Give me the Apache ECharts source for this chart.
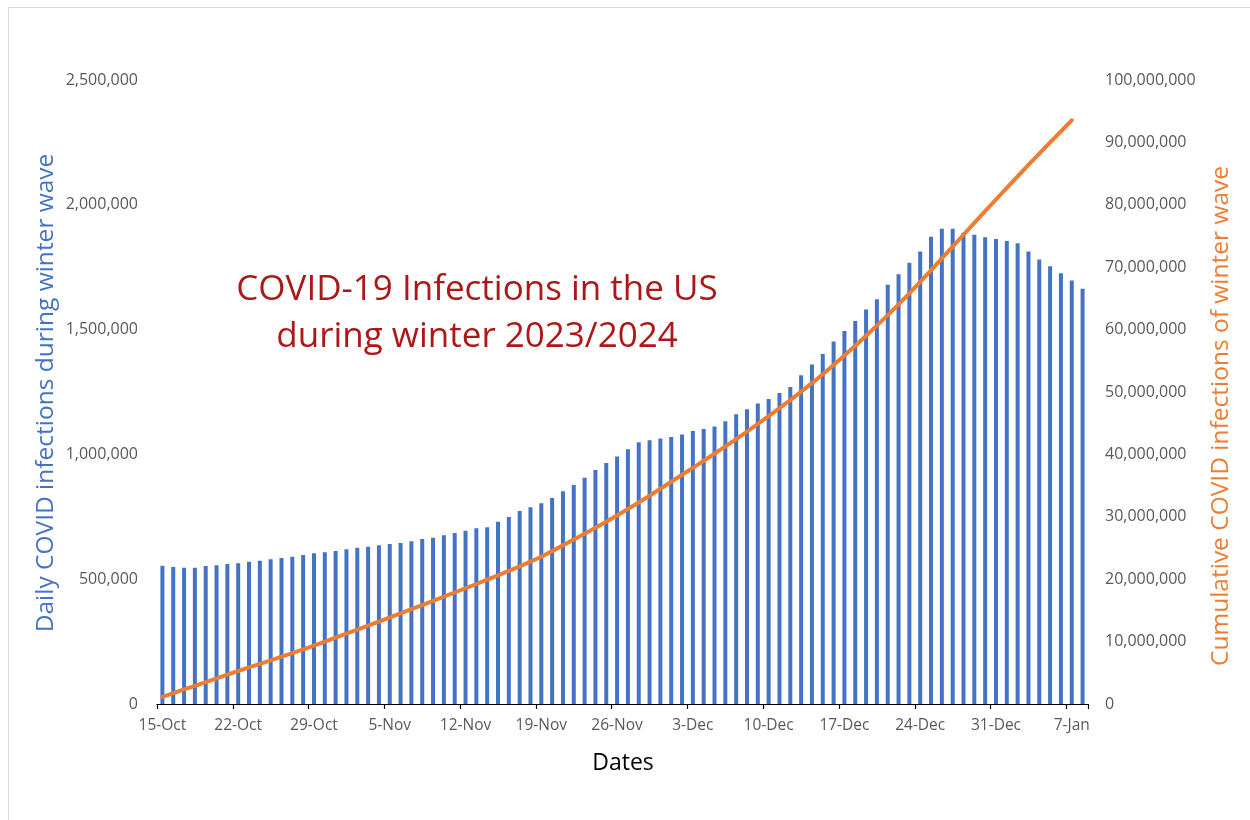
<!DOCTYPE html>
<html>
<head>
<meta charset="utf-8">
<script src="https://cdn.jsdelivr.net/npm/echarts@6/dist/echarts.min.js"></script>
<style>
html,body{margin:0;padding:0;background:#fff;}
#chart{width:1250px;height:820px;}
</style>
</head>
<body>
<div id="chart"></div>
<script>
const dates = [
 "15-Oct","16-Oct","17-Oct","18-Oct","19-Oct","20-Oct","21-Oct","22-Oct","23-Oct","24-Oct","25-Oct","26-Oct","27-Oct","28-Oct","29-Oct","30-Oct","31-Oct",
 "1-Nov","2-Nov","3-Nov","4-Nov","5-Nov","6-Nov","7-Nov","8-Nov","9-Nov","10-Nov","11-Nov","12-Nov","13-Nov","14-Nov","15-Nov","16-Nov","17-Nov","18-Nov","19-Nov","20-Nov","21-Nov","22-Nov","23-Nov","24-Nov","25-Nov","26-Nov","27-Nov","28-Nov","29-Nov","30-Nov",
 "1-Dec","2-Dec","3-Dec","4-Dec","5-Dec","6-Dec","7-Dec","8-Dec","9-Dec","10-Dec","11-Dec","12-Dec","13-Dec","14-Dec","15-Dec","16-Dec","17-Dec","18-Dec","19-Dec","20-Dec","21-Dec","22-Dec","23-Dec","24-Dec","25-Dec","26-Dec","27-Dec","28-Dec","29-Dec","30-Dec","31-Dec",
 "1-Jan","2-Jan","3-Jan","4-Jan","5-Jan","6-Jan","7-Jan","8-Jan"
];

const dailyInfections = [
 554000,549000,546000,546000,553000,556000,561000,564000,570000,574000,
 580000,585000,590000,597000,604000,608000,613000,620000,626000,630000,
 636000,641000,645000,652000,661000,666000,676000,685000,694000,704000,
 708000,730000,749000,773000,788000,804000,825000,852000,877000,906000,
 938000,966000,992000,1021000,1049000,1057000,1064000,1070000,1080000,1094000,
 1102000,1112000,1133000,1161000,1181000,1204000,1222000,1246000,1270000,1317000,
 1360000,1402000,1452000,1494000,1534000,1581000,1622000,1680000,1722000,1768000,
 1813000,1872000,1904000,1904000,1888000,1880000,1870000,1863000,1855000,1846000,
 1813000,1781000,1754000,1726000,1697000,1664000
];

const cumulativeInfections = [
 1150000,1740000,2330000,2920000,3510000,4100000,4700000,5290000,5860000,6430000,
 7000000,7580000,8170000,8760000,9370000,10000000,10630000,11270000,11910000,12560000,
 13220000,13880000,14540000,15200000,15860000,16520000,17190000,17870000,18550000,19230000,
 19920000,20620000,21330000,22060000,22820000,23600000,24500000,25420000,26360000,27300000,
 28250000,29220000,30220000,31240000,32300000,33380000,34500000,35620000,36730000,37850000,
 38980000,40120000,41280000,42460000,43660000,44880000,46120000,47400000,48700000,50050000,
 51420000,52850000,54320000,55840000,57400000,59000000,60640000,62330000,64050000,65820000,
 67640000,69500000,71400000,73300000,75200000,77100000,78980000,80850000,82700000,84550000,
 86380000,88200000,90000000,91780000,93550000,null
];

const chartTitle = "COVID-19 Infections in the US\nduring winter 2023/2024";
const leftAxisTitle = "Daily COVID infections during winter wave";
const rightAxisTitle = "Cumulative COVID infections of winter wave";
const xAxisTitle = "Dates";

function fmt(v){ return String(v).replace(/\B(?=(\d{3})+(?!\d))/g, ","); }

const FONT = "'Open Sans', 'Liberation Sans', sans-serif";
const chart = echarts.init(document.getElementById('chart'), null, {renderer:'canvas'});
chart.setOption({
  animation: false,
  backgroundColor: '#ffffff',
  grid: {left:157, right:162, top:80, bottom:116, containLabel:false},
  xAxis: {
    type:'category', data: dates, boundaryGap:true,
    axisLine:{show:true, lineStyle:{color:'#000000', width:1.2}},
    axisTick:{show:true, interval:6, length:5, alignWithLabel:false, lineStyle:{color:'#000000', width:1.2}},
    axisLabel:{interval:6, color:'#595959', fontSize:15.5, fontFamily:FONT, margin:14},
    splitLine:{show:false}
  },
  yAxis: [
    {type:'value', min:0, max:2500000, interval:500000, position:'left',
     axisLine:{show:false}, axisTick:{show:false}, splitLine:{show:false},
     axisLabel:{color:'#595959', fontSize:16, fontFamily:FONT, margin:19, formatter:fmt}},
    {type:'value', min:0, max:100000000, interval:10000000, position:'right',
     axisLine:{show:false}, axisTick:{show:false}, splitLine:{show:false},
     axisLabel:{color:'#595959', fontSize:16, fontFamily:FONT, margin:17, formatter:fmt}}
  ],
  series: [
    {type:'bar', name:'Daily', data: dailyInfections, yAxisIndex:0, barWidth:4,
     itemStyle:{color:'#4472C4'}, z:2},
    {type:'line', name:'Cumulative', data: cumulativeInfections, yAxisIndex:1,
     showSymbol:false, symbol:'none', smooth:false, connectNulls:false,
     lineStyle:{color:'#ED7D31', width:4, cap:'round', join:'round'}, z:3}
  ],
  graphic: [
    {type:'rect', silent:true, z:-10, shape:{x:8.5, y:7.5, width:1400, height:1000},
     style:{fill:'none', stroke:'#d9d9d9', lineWidth:1}},
    {type:'text', x:477, y:314, z:10,
     style:{text:chartTitle, fill:'#AE1717', font:"35px 'Open Sans', sans-serif",
            align:'center', verticalAlign:'middle', textAlign:'center', textVerticalAlign:'middle', lineHeight:47}},
    {type:'text', x:46, y:393, rotation:Math.PI/2, z:10,
     style:{text:leftAxisTitle, fill:'#4472C4', font:"24.5px 'Open Sans', sans-serif",
            align:'center', verticalAlign:'middle', textAlign:'center', textVerticalAlign:'middle'}},
    {type:'text', x:1221, y:416, rotation:Math.PI/2, z:10,
     style:{text:rightAxisTitle, fill:'#ED7D31', font:"24.5px 'Open Sans', sans-serif",
            align:'center', verticalAlign:'middle', textAlign:'center', textVerticalAlign:'middle'}},
    {type:'text', x:623, y:763, z:10,
     style:{text:xAxisTitle, fill:'#000000', font:"23px 'Open Sans', sans-serif",
            align:'center', verticalAlign:'middle', textAlign:'center', textVerticalAlign:'middle'}}
  ]
});
</script>
</body>
</html>
